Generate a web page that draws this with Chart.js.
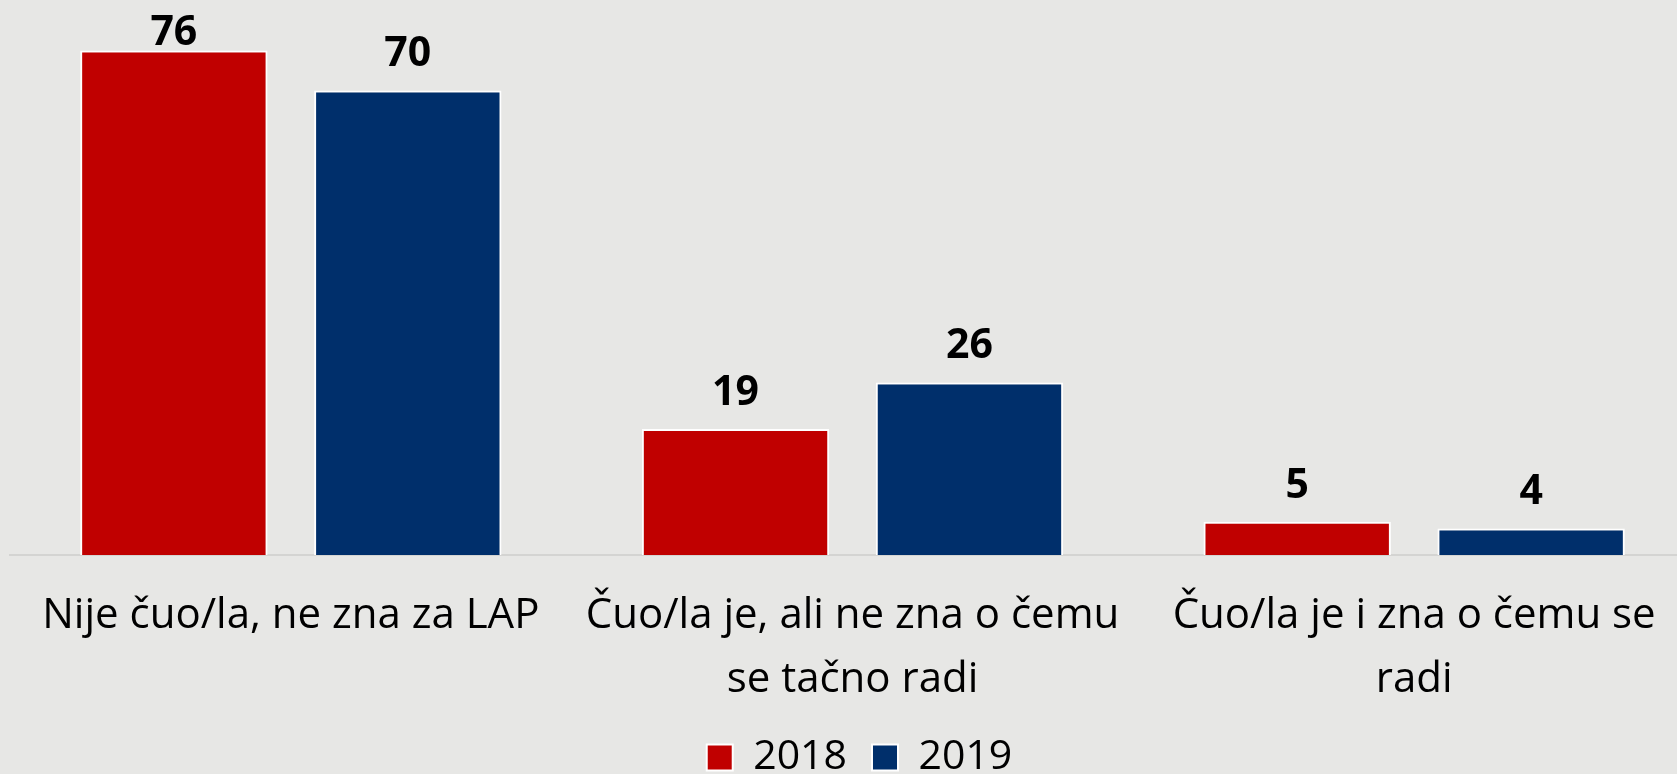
<!DOCTYPE html>
<html>
<head>
<meta charset="utf-8">
<script src="https://cdn.jsdelivr.net/npm/chart.js@4"></script>
<style>
  html, body { margin: 0; padding: 0; background: #E7E7E5; overflow: hidden; }
  #wrap { position: relative; width: 1677px; height: 774px; overflow: hidden; }
  #chart { position: absolute; left: 0; top: 0; }
</style>
</head>
<body>
<div id="wrap">
  <canvas id="chart" width="1709" height="788" style="width:1709px;height:788px"></canvas>
</div>
<script>
// categories and values
const categories = [
  ["Nije čuo/la, ne zna za LAP"],
  ["Čuo/la je, ali ne zna o čemu", "se tačno radi"],
  ["Čuo/la je i zna o čemu se", "radi"]
];
const values2018 = [76, 19, 5];
const values2019 = [70, 26, 4];
const seriesNames = ["2018", "2019"];

// draw the value above each bar (kept inside the picture at the top, like the original)
const barLabels = {
  id: "barLabels",
  afterDatasetsDraw(chart) {
    const ctx = chart.ctx;
    ctx.save();
    ctx.font = "bold 41px 'Open Sans'";
    ctx.fillStyle = "#000000";
    ctx.textAlign = "center";
    ctx.textBaseline = "alphabetic";
    chart.data.datasets.forEach((ds, i) => {
      const meta = chart.getDatasetMeta(i);
      meta.data.forEach((bar, j) => {
        const y = Math.max(bar.y - 24, 45);
        ctx.fillText(ds.data[j], bar.x, y);
      });
    });
    ctx.restore();
  }
};

const canvas = document.getElementById("chart");
new Chart(canvas, {
  type: "bar",
  data: {
    labels: categories,
    datasets: [
      {
        label: seriesNames[0],
        data: values2018,
        backgroundColor: "#C00000",
        borderColor: "#FFFFFF",
        borderWidth: 2,
        barPercentage: 0.801,
        categoryPercentage: 0.833
      },
      {
        label: seriesNames[1],
        data: values2019,
        backgroundColor: "#002F6B",
        borderColor: "#FFFFFF",
        borderWidth: 2,
        barPercentage: 0.801,
        categoryPercentage: 0.833
      }
    ]
  },
  options: {
    responsive: false,
    animation: false,
    layout: { padding: { top: 24, bottom: 0, left: 10, right: 0 } },
    plugins: {
      tooltip: { enabled: false },
      legend: {
        position: "bottom",
        labels: {
          boxWidth: 26,
          boxHeight: 26,
          padding: 25,
          color: "#000000",
          font: { family: "'Open Sans'", size: 41 }
        }
      }
    },
    scales: {
      x: {
        grid: { display: false, drawTicks: false },
        border: { display: true, color: "#D4D4D2", width: 2 },
        ticks: {
          color: "#000000",
          padding: 29,
          autoSkip: false,
          maxRotation: 0,
          font: { family: "'Open Sans'", size: 42, lineHeight: 64 / 42 }
        },
        afterFit(scale) { scale.height = 157; }
      },
      y: {
        position: "right",
        min: 0,
        max: 80,
        grid: { display: false },
        border: { display: false },
        ticks: { display: false },
        afterFit(scale) { scale.width = 14; }
      }
    }
  },
  plugins: [barLabels]
});
</script>
</body>
</html>
